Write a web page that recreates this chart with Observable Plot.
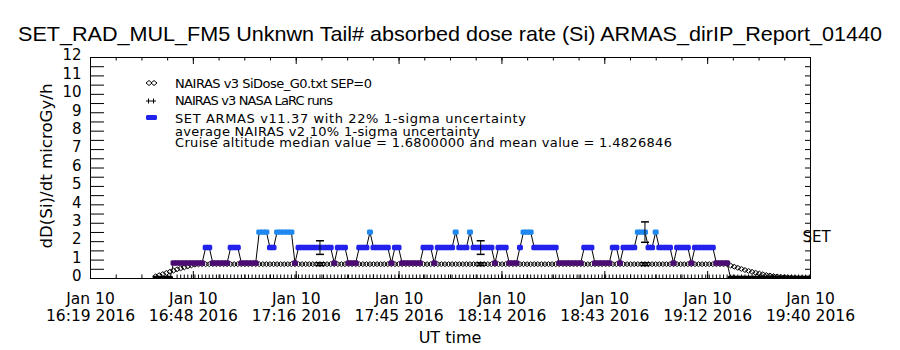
<!DOCTYPE html>
<html><head><meta charset="utf-8">
<script src="https://cdn.jsdelivr.net/npm/d3@7"></script>
<script src="https://cdn.jsdelivr.net/npm/@observablehq/plot@0.6"></script>
<style>
html,body{margin:0;padding:0;background:#fff;}
#wrap{position:relative;width:900px;height:350px;overflow:hidden;font-family:"DejaVu Sans",sans-serif;}
#titlebox{height:44px;}
#overlay{position:absolute;left:0;top:0;pointer-events:none;}
#chart svg{display:block;}
</style></head><body>
<div id="wrap">
<div id="titlebox"></div>
<div id="chart"></div>
<svg id="overlay" width="900" height="350"></svg>
</div>
<script>
// ---------------- data ----------------
const titleText = "SET_RAD_MUL_FM5 Unknwn Tail#  absorbed dose rate (Si) ARMAS_dirIP_Report_01440";
const yLabelText = "dD(Si)/dt microGy/h";
const xLabelText = "UT time";
const legendLabels = [
  "NAIRAS v3 SiDose_G0.txt SEP=0",
  "NAIRAS v3 NASA LaRC runs",
  "SET ARMAS v11.37 with 22% 1-sigma uncertainty",
  "average NAIRAS v2 10% 1-sigma uncertainty",
  "Cruise altitude median value = 1.6800000 and mean value = 1.4826846"
];
const endLabel = "SET";
const endLabelValue = 2.25;

const axisStart = "2016-01-10T16:19:15Z";
const axisStepMinutes = 28.8;
const xTickLabels = [
  "Jan 10\n16:19 2016", "Jan 10\n16:48 2016", "Jan 10\n17:16 2016", "Jan 10\n17:45 2016",
  "Jan 10\n18:14 2016", "Jan 10\n18:43 2016", "Jan 10\n19:12 2016", "Jan 10\n19:40 2016"
];
const yTicks = [0,1,2,3,4,5,6,7,8,9,10,11,12];

const sampleStart = "2016-01-10T16:37:30Z";   // one sample per minute
const sampleStepSeconds = 60;

const doseLevels = [0, 0.84, 1.68, 2.52];
const levelColors = ["#000000", "#4b0d72", "#2222ee", "#1f88f0"];

// SET ARMAS absorbed dose rate (microGy/h), one value per minute
const armasDose = [
  0,0,0,0,0,
  0.84,0.84,0.84,0.84,0.84,0.84,0.84,0.84,0.84,
  1.68,1.68,
  0.84,0.84,0.84,0.84,0.84,
  1.68,1.68,1.68,
  0.84,0.84,0.84,0.84,0.84,
  2.52,2.52,2.52,
  1.68,1.68,
  2.52,2.52,2.52,2.52,2.52,
  0.84,
  1.68,1.68,1.68,1.68,1.68,1.68,1.68,1.68,1.68,1.68,
  0.84,
  1.68,1.68,1.68,
  0.84,0.84,0.84,
  1.68,1.68,1.68,
  2.52,
  1.68,1.68,1.68,1.68,1.68,
  0.84,
  1.68,1.68,
  0.84,0.84,0.84,0.84,0.84,0.84,
  1.68,1.68,1.68,
  0.84,
  1.68,1.68,1.68,1.68,1.68,
  2.52,
  1.68,1.68,1.68,
  2.52,
  1.68,1.68,1.68,1.68,1.68,1.68,
  0.84,
  1.68,1.68,1.68,
  0.84,0.84,0.84,
  1.68,
  2.52,2.52,2.52,
  1.68,1.68,1.68,1.68,1.68,1.68,1.68,
  0.84,0.84,0.84,0.84,0.84,0.84,0.84,
  1.68,1.68,1.68,
  0.84,0.84,0.84,0.84,0.84,
  1.68,1.68,
  0.84,
  1.68,1.68,1.68,1.68,
  2.52,2.52,2.52,
  1.68,1.68,
  2.52,
  1.68,1.68,1.68,1.68,
  0.84,
  1.68,1.68,1.68,1.68,
  0.84,
  1.68,1.68,1.68,1.68,1.68,1.68,
  0.84,0.84,0.84,0.84,
  0,0,0,0,0,0,0,0,0,0,0,0,0,0,0,0,0,0,0,0,0,0,0
];

// NAIRAS v3 SiDose (microGy/h), same minute grid
const nairasDose = [
  0.12,0.18,0.24,0.30,0.37,0.43,0.50,0.55,0.60,0.66,0.71,0.75,0.77,
  0.78,0.78,0.78,0.78,0.78,0.78,0.78,0.78,0.78,0.78,0.78,0.78,0.78,0.78,0.78,0.78,0.78,0.78,0.78,0.78,
  0.78,0.78,0.78,0.78,0.78,0.78,0.78,0.78,0.78,0.78,0.78,0.78,0.78,0.78,0.78,0.78,0.78,0.78,0.78,0.78,
  0.78,0.78,0.78,0.78,0.78,0.78,0.78,0.78,0.78,0.78,0.78,0.78,0.78,0.78,0.78,0.78,0.78,0.78,0.78,0.78,
  0.78,0.78,0.78,0.78,0.78,0.78,0.78,0.78,0.78,0.78,0.78,0.78,0.78,0.78,0.78,0.78,0.78,0.78,0.78,0.78,
  0.78,0.78,0.78,0.78,0.78,0.78,0.78,0.78,0.78,0.78,0.78,0.78,0.78,0.78,0.78,0.78,0.78,0.78,0.78,0.78,
  0.78,0.78,0.78,0.78,0.78,0.78,0.78,0.78,0.78,0.78,0.78,0.78,0.78,0.78,0.78,0.78,0.78,0.78,0.78,0.78,
  0.78,0.78,0.78,0.78,0.78,0.78,0.78,0.78,0.78,0.78,0.78,0.78,0.78,0.78,0.78,0.78,0.78,0.78,0.78,0.78,
  0.78,0.78,0.78,0.78,0.78,0.78,0.78,0.78,
  0.70,0.64,0.58,0.52,0.46,0.41,0.36,0.31,0.27,0.23,0.19,0.16,0.13,0.11,0.09,0.07,0.06,0.05,0.04,0.03,0.02,0.02,0.01
];

// NAIRAS v3 NASA LaRC runs: values from the 7th minute of the grid on
const larcFirstIndex = 6;
const larcDose = [
  0,0,0,0,0,0,0,0,0,0,0,0,0,0,0,0,0,0,0,0,0,0,0,0,0,0,0,0,0,0,0,0,0,0,0,0,0,0,0,0,
  0,0,0,0,0,0,0,0,0,0,0,0,0,0,0,0,0,0,0,0,0,0,0,0,0,0,0,0,0,0,0,0,0,0,0,0,0,0,0,0,
  0,0,0,0,0,0,0,0,0,0,0,0,0,0,0,0,0,0,0,0,0,0,0,0,0,0,0,0,0,0,0,0,0,0,0,0,0,0,0,0,
  0,0,0,0,0,0,0,0,0,0,0,0,0,0,0,0,0,0,0,0,0,0,0,0,0,0,0,0,0,0,0,0,0,0,0,0,0,0,0,0,
  0,0,0,0,0,0,0,0,0,0,0,0,0,0,0,0,0,0
];

// uncertainty bars shown at these sample times
const errorTimes = ["2016-01-10T17:23:30Z", "2016-01-10T18:08:30Z", "2016-01-10T18:54:30Z"];
const armasSigma = 0.22;
const nairasSigma = 0.10;

// ---------------- build ----------------
const T0 = Date.parse(sampleStart);
const stepMs = sampleStepSeconds * 1000;
const armas = armasDose.map((v, i) => ({time: new Date(T0 + i * stepMs), dose: v}));
const nairas = nairasDose.map((v, i) => ({time: new Date(T0 + i * stepMs), dose: v}));
const larc = larcDose.map((v, i) => ({time: new Date(T0 + (larcFirstIndex + i) * stepMs), dose: v}));

const A0 = Date.parse(axisStart);
const stepAxis = axisStepMinutes * 60000;
const majorTicks = xTickLabels.map((_, k) => new Date(A0 + k * stepAxis));
const minorTicks = d3.range(0, (xTickLabels.length - 1) * 4 + 1).map(k => new Date(A0 + k * stepAxis / 4));
const xDomain = [majorTicks[0], majorTicks[majorTicks.length - 1]];
const yHalfTicks = d3.range(0, 12.01, 0.5);

const errs = errorTimes.map(t => {
  const ms = Date.parse(t);
  const a = armas.find(d => +d.time === ms);
  const n = nairas.find(d => +d.time === ms);
  return {time: new Date(ms), a: a.dose, n: n.dose};
});

const W = 900, H = 306, mL = 90, mR = 90, mT = 13, mB = 72;
const frameW = W - mL - mR, frameH = H - mT - mB;

const blob = {draw(ctx, size) {
  const r = Math.sqrt(size / Math.PI), w = r, h = r * 0.9, c = r * 0.35;
  ctx.moveTo(-w + c, -h); ctx.lineTo(w - c, -h); ctx.lineTo(w, -h + c); ctx.lineTo(w, h - c);
  ctx.lineTo(w - c, h); ctx.lineTo(-w + c, h); ctx.lineTo(-w, h - c); ctx.lineTo(-w, -h + c); ctx.closePath();
}};
const diamond = {draw(ctx, size) {
  const r = Math.sqrt(size / Math.PI), w = r, h = r * 0.8;
  ctx.moveTo(0, -h); ctx.lineTo(w, 0); ctx.lineTo(0, h); ctx.lineTo(-w, 0); ctx.closePath();
}};
const plus = {draw(ctx, size) {
  const r = Math.sqrt(size / Math.PI);
  ctx.moveTo(-r, 0); ctx.lineTo(r, 0); ctx.moveTo(0, -r); ctx.lineTo(0, r);
}};
const cap = {draw(ctx, size) {
  const r = Math.sqrt(size / Math.PI);
  ctx.moveTo(-r, 0); ctx.lineTo(r, 0);
}};

const fmtTick = d => xTickLabels[majorTicks.findIndex(t => +t === +d)];

const chart = Plot.plot({
  width: W, height: H,
  marginLeft: mL, marginRight: mR, marginTop: mT, marginBottom: mB,
  x: {type: "utc", domain: xDomain},
  y: {domain: [0, 12]},
  color: {type: "ordinal", domain: doseLevels, range: levelColors},
  style: {fontFamily: "'DejaVu Sans', sans-serif", fontSize: "15px", background: "white", color: "black"},
  marks: [
    Plot.ruleX(majorTicks, {x: d => d, insetTop: frameH - 7, stroke: "black"}),
    Plot.ruleX(majorTicks, {x: d => d, insetBottom: frameH - 7, stroke: "black"}),
    Plot.ruleX(minorTicks, {x: d => d, insetTop: frameH - 3.5, stroke: "black"}),
    Plot.ruleX(minorTicks, {x: d => d, insetBottom: frameH - 3.5, stroke: "black"}),
    Plot.ruleY(yHalfTicks, {y: d => d, insetRight: frameW - 14, stroke: "black"}),
    Plot.ruleY(yHalfTicks, {y: d => d, insetLeft: frameW - 5, stroke: "black"}),
    Plot.axisX({ticks: majorTicks, tickSize: 0, tickPadding: 13, tickFormat: fmtTick, fontSize: 15.5, lineHeight: 1.13, label: null}),
    Plot.axisY({ticks: yTicks, tickSize: 0, tickPadding: 9, fontSize: 15, dy: -2, label: null}),
    Plot.dot(nairas, {x: "time", y: "dose", symbol: diamond, r: 3, stroke: "black", strokeWidth: 1, fill: "none", clip: true}),
    Plot.dot(larc, {x: "time", y: "dose", symbol: plus, r: 4, stroke: "black", strokeWidth: 1, clip: true}),
    Plot.line(armas, {x: "time", y: "dose", stroke: "black", strokeWidth: 1, clip: true}),
    Plot.dot(armas, {x: "time", y: "dose", symbol: blob, r: 3, fill: "dose", stroke: "none", clip: true}),
    Plot.ruleX(errs, {x: "time", y1: d => d.a * (1 - armasSigma), y2: d => d.a * (1 + armasSigma), stroke: "black"}),
    Plot.dot(errs, {x: "time", y: d => d.a * (1 - armasSigma), symbol: cap, r: 4, stroke: "black"}),
    Plot.dot(errs, {x: "time", y: d => d.a * (1 + armasSigma), symbol: cap, r: 4, stroke: "black"}),
    Plot.ruleX(errs, {x: "time", y1: d => d.n * (1 - nairasSigma), y2: d => d.n * (1 + nairasSigma), stroke: "black"}),
    Plot.dot(errs, {x: "time", y: d => d.n * (1 - nairasSigma), symbol: cap, r: 4, stroke: "black"}),
    Plot.dot(errs, {x: "time", y: d => d.n * (1 + nairasSigma), symbol: cap, r: 4, stroke: "black"}),
    Plot.text([endLabel], {x: xDomain[1], y: endLabelValue, text: d => d, textAnchor: "start", dx: -8, fontSize: 15}),
    Plot.frame({stroke: "black"})
  ]
});
document.getElementById("chart").appendChild(chart);

// ---------------- title, labels, legend ----------------
const NS = "http://www.w3.org/2000/svg";
function txt(svg, s, attrs) {
  const t = document.createElementNS(NS, "text");
  for (const k in attrs) t.setAttribute(k, attrs[k]);
  t.textContent = s;
  svg.appendChild(t);
  return t;
}
function path(svg, d, attrs) {
  const p = document.createElementNS(NS, "path");
  p.setAttribute("d", d);
  for (const k in attrs) p.setAttribute(k, attrs[k]);
  svg.appendChild(p);
}
const font = "'DejaVu Sans', sans-serif";
const ov = document.getElementById("overlay");
txt(ov, titleText, {x: 18, y: 41, "font-size": 21, "font-family": "'Liberation Sans', sans-serif", textLength: 864, lengthAdjust: "spacingAndGlyphs"});
txt(ov, yLabelText, {transform: "translate(52,166) rotate(-90)", "text-anchor": "middle", "font-size": 16, "font-family": font, textLength: 165, lengthAdjust: "spacingAndGlyphs"});
txt(ov, xLabelText, {x: 450, y: 343, "text-anchor": "middle", "font-size": 16, "font-family": font});

const legendBase = [87.5, 104.5, 122.5, 135.5, 146.5];
const legendLen = [197, 158, 351, 305, 497];
legendLabels.forEach((s, i) => {
  txt(ov, s, {x: 175, y: legendBase[i], "font-size": 13, "font-family": font, textLength: legendLen[i], lengthAdjust: "spacing"});
});
path(ov, "M146,83 l3,-2.5 l3,2.5 l-3,2.5 z M151,83 l3,-2.5 l3,2.5 l-3,2.5 z", {fill: "none", stroke: "black"});
path(ov, "M146,101 h5 M148.5,98.5 v5 M151,101 h5 M153.5,98.5 v5", {fill: "none", stroke: "black"});
path(ov, "M147,115 h9 l1,1 v3 l-1,1 h-9 l-1,-1 v-3 z", {fill: levelColors[2], stroke: "none"});
</script>
</body></html>
